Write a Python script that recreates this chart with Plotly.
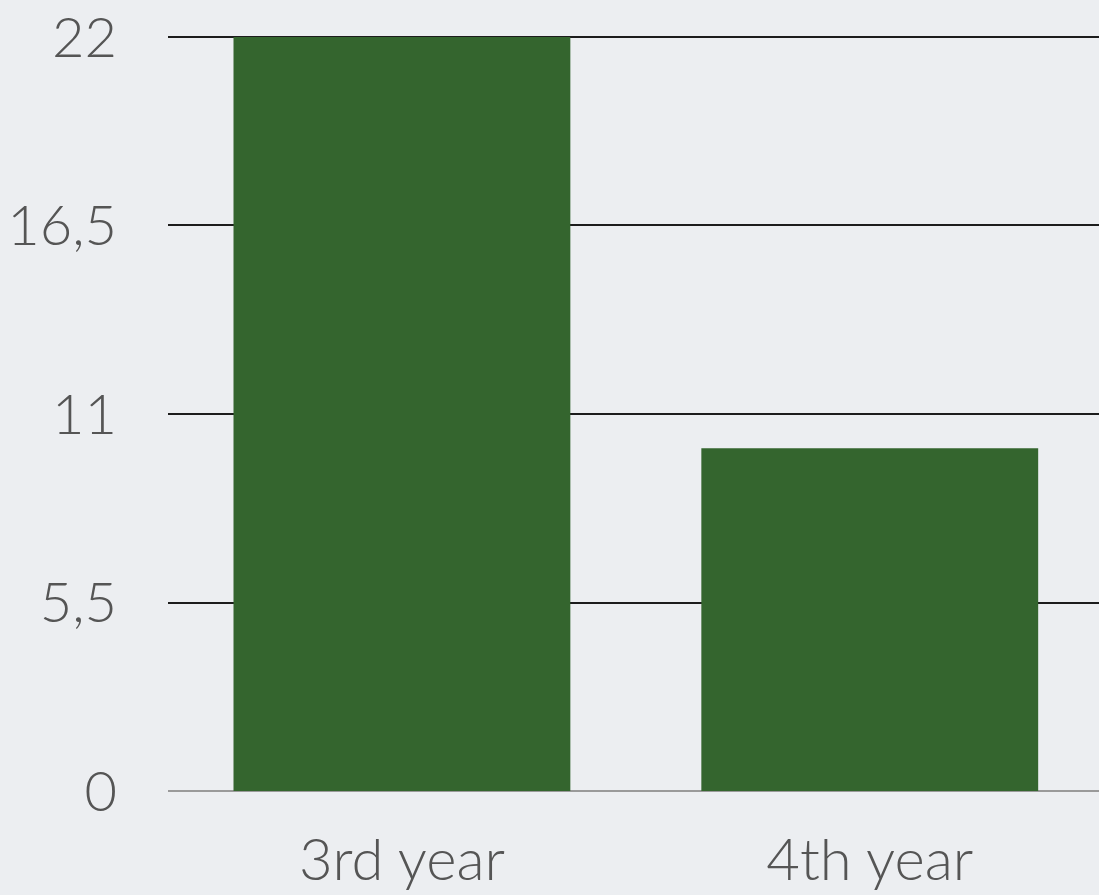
import plotly.graph_objects as go

categories = ["3rd year", "4th year"]
values = [22, 10]
y_ticks = [0, 5.5, 11, 16.5, 22]
y_tick_labels = ["0", "5,5", "11", "16,5", "22"]

fig = go.Figure()
fig.add_trace(go.Bar(
    x=categories, y=values,
    marker=dict(color="#34652e", line=dict(width=0)),
    width=0.72,
))

fig.update_layout(
    width=1099, height=895,
    margin=dict(l=168, r=0, t=35, b=104),
    paper_bgcolor="#eceef1",
    plot_bgcolor="rgba(0,0,0,0)",
    showlegend=False,
    font=dict(family="Gill Sans, Lato, Open Sans, sans-serif", size=56, color="#555555", weight=300),
    xaxis=dict(
        range=[-0.5, 1.49],
        showgrid=False,
        showline=False,
        zeroline=False,
        ticks="",
        ticklabelstandoff=30,
        tickfont=dict(size=58),
    ),
    yaxis=dict(
        range=[0, 22.058],
        tickvals=y_ticks,
        ticktext=y_tick_labels,
        showgrid=True,
        gridcolor="#1c1c1c",
        gridwidth=2,
        zeroline=True,
        zerolinecolor="#9a9a9a",
        zerolinewidth=2,
        showline=False,
        ticks="",
        ticklabelstandoff=50,
    ),
)

fig.write_html("out.html")
